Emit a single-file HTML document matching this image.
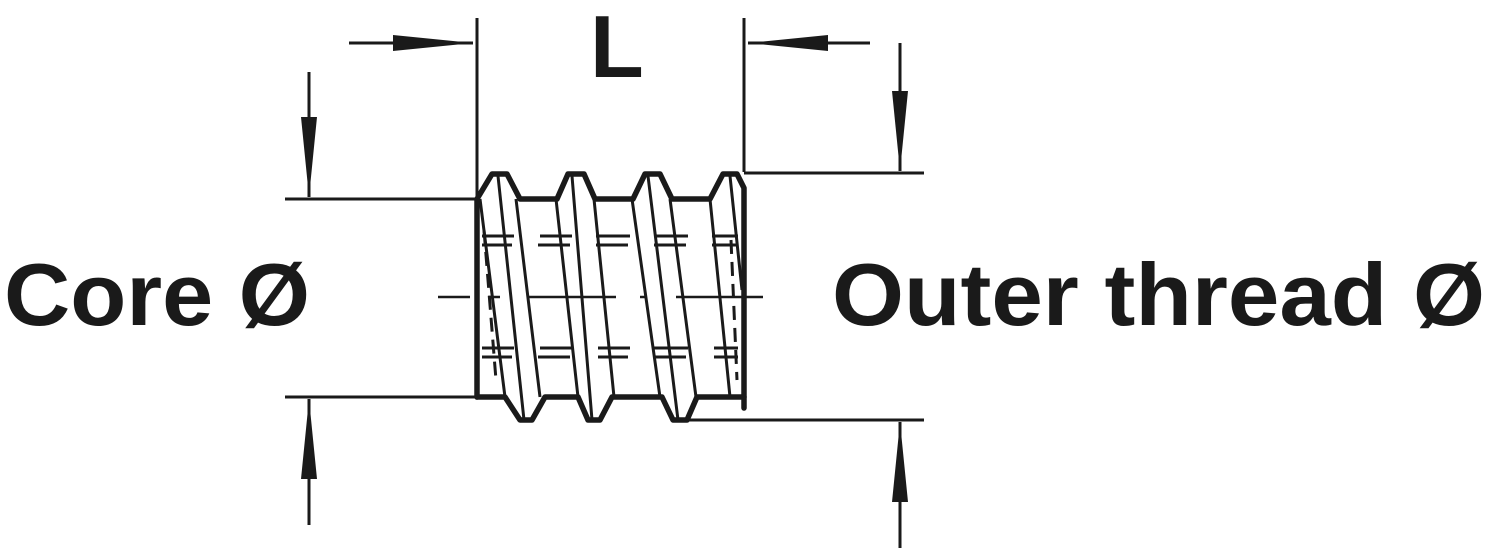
<!DOCTYPE html>
<html><head><meta charset="utf-8"><style>html,body{margin:0;padding:0;background:#fff}svg{display:block}</style></head>
<body>
<svg width="1488" height="550" viewBox="0 0 1488 550" xmlns="http://www.w3.org/2000/svg">
<defs>
<marker id="a" viewBox="0 0 80 20" refX="80" refY="10" markerWidth="80" markerHeight="20" markerUnits="userSpaceOnUse" orient="auto"><path d="M0,2 L80,10 L0,18 Z" fill="#1a1a1a"/></marker>
</defs>
<g stroke="#1a1a1a" fill="none" stroke-width="3">
<line x1="477" y1="18" x2="477" y2="199"/>
<line x1="744" y1="18" x2="744" y2="172"/>
<line x1="349" y1="43" x2="473" y2="43" marker-end="url(#a)"/>
<line x1="870" y1="43" x2="748" y2="43" marker-end="url(#a)"/>
<line x1="285" y1="199" x2="477" y2="199"/>
<line x1="285" y1="397" x2="477" y2="397"/>
<line x1="309" y1="72" x2="309" y2="197" marker-end="url(#a)"/>
<line x1="309" y1="525" x2="309" y2="399" marker-end="url(#a)"/>
<line x1="744" y1="173" x2="924" y2="173"/>
<line x1="685" y1="420" x2="924" y2="420"/>
<line x1="900" y1="43" x2="900" y2="171" marker-end="url(#a)"/>
<line x1="900" y1="548" x2="900" y2="422" marker-end="url(#a)"/>
<path d="M438,297 H470 M488,297 H500 M528,297 H616 M640,297 H646 M676,297 H763" stroke-width="2.5"/>
</g>
<g stroke="#1a1a1a" fill="none" stroke-width="5.5" stroke-linejoin="round" stroke-linecap="round">
<path d="M477,397 V199 L492,174 H507 L520,199 H557 L568,174 H584 L595,199 H633 L645,174 H660 L672,199 H710 L723,174 H737 L744,188 V408"/>
<path d="M477,397 H505 L520,420 H532 L545,397 H578 L588,420 H600 L612,397 H662 L673,420 H687 L697,397 H744"/>
</g>
<g stroke="#1a1a1a" fill="none" stroke-width="3">
<path d="M480,199 L505,397 M498,176 L524,420 M516,199 L540,397"/>
<path d="M556,199 L578,397 M572,176 L592,420 M594,199 L614,397"/>
<path d="M632,199 L660,397 M648,176 L678,420 M670,199 L696,397"/>
<path d="M710,199 L730,397 M730,176 L742,290"/>
<path d="M484,230 L496,380" stroke-dasharray="14,8"/>
<path d="M731,240 L737,380" stroke-dasharray="14,8"/>
<path d="M482,236 H514 M540,236 H572 M596,236 H630 M654,236 H688 M712,236 H738
M482,245 H512 M538,245 H570 M596,245 H628 M654,245 H686 M712,245 H738
M482,348 H514 M540,348 H572 M598,348 H630 M654,348 H688 M714,348 H738
M482,357 H512 M538,357 H570 M598,357 H628 M654,357 H686 M714,357 H738"/>
</g>
<g font-family="Liberation Sans, sans-serif" font-weight="bold" fill="#1a1a1a">
<text x="590" y="77" font-size="88">L</text>
<text x="4" y="325" font-size="88" textLength="306" lengthAdjust="spacingAndGlyphs">Core Ø</text>
<text x="832" y="325" font-size="88" textLength="653" lengthAdjust="spacingAndGlyphs">Outer thread Ø</text>
</g>
</svg>
</body></html>
